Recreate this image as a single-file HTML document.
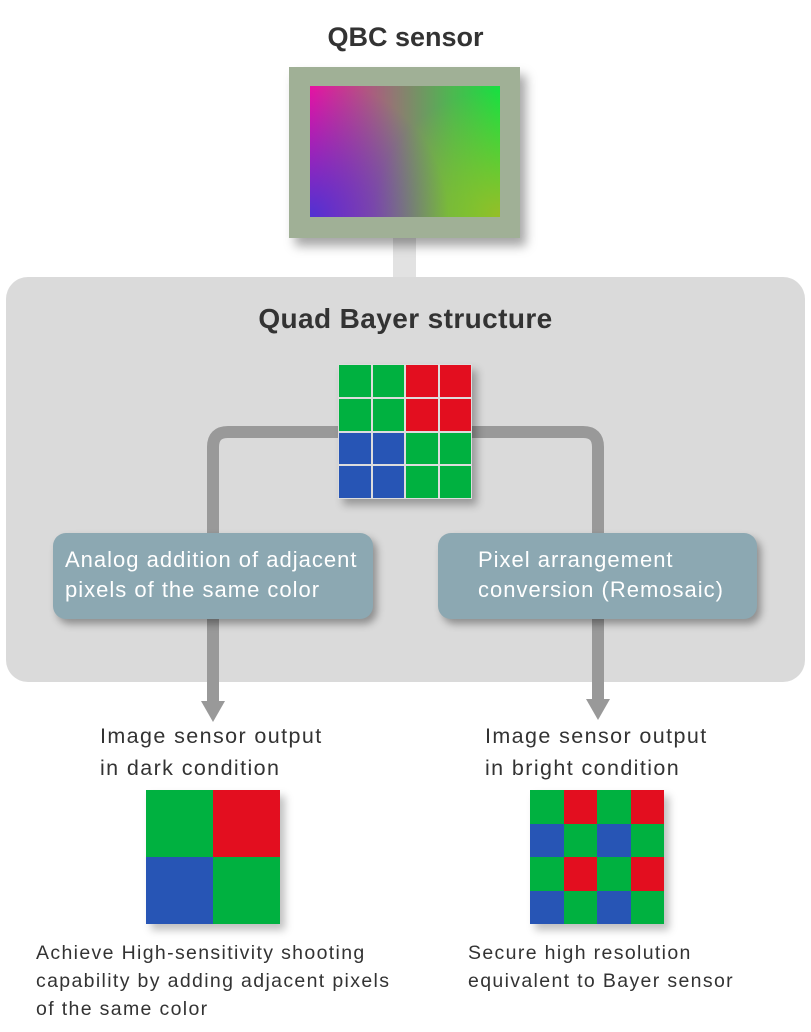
<!DOCTYPE html>
<html><head><style>
body{margin:0;width:811px;height:1032px;background:#fff;position:relative;overflow:hidden;font-family:"Liberation Sans","DejaVu Sans",sans-serif;}
.a{position:absolute}
.t{font-weight:bold;color:#333;text-align:center;width:811px;left:0}
.box{position:absolute;background:#8ca8b2;border-radius:13px;color:#fff;font-size:22px;letter-spacing:1px;line-height:30px;box-shadow:4px 5px 8px rgba(0,0,0,.35);padding:12px 0 0 12px;box-sizing:border-box;white-space:nowrap}
.lbl{position:absolute;font-size:21.5px;letter-spacing:1.4px;line-height:32px;color:#333;white-space:nowrap}
.cap{position:absolute;font-size:19.5px;letter-spacing:1.35px;line-height:28px;color:#333;white-space:nowrap}
.g{position:absolute;display:grid}
.g div{box-sizing:border-box}
.G{background:#00b140}.R{background:#e30e1f}.B{background:#2755b5}
</style></head><body>
<div class="a t" style="top:22px;font-size:27px">QBC sensor</div>
<div class="a" style="left:393px;top:236px;width:23px;height:60px;background:#e2e2e2"></div>
<div class="a" style="left:289px;top:67px;width:231px;height:171px;background:#a0b096;box-shadow:6px 8px 10px rgba(0,0,0,.35)"></div>
<div class="a" style="left:310px;top:86px;width:190px;height:131px;background:linear-gradient(to right,#f010a0 0%,#8f7a72 45%,#4cb850 75%,#18e040 100%)"></div>
<div class="a" style="left:310px;top:86px;width:190px;height:131px;background:radial-gradient(circle at 0% 100%,rgba(80,50,210,1) 0%,rgba(110,90,150,0) 60%),radial-gradient(circle at 100% 100%,rgba(150,190,40,1) 0%,rgba(120,160,60,0) 55%)"></div>
<div class="a" style="left:6px;top:277px;width:799px;height:405px;background:#dadada;border-radius:22px"></div>
<div class="a t" style="top:303px;font-size:28px;letter-spacing:0.4px">Quad Bayer structure</div>
<svg class="a" style="left:0;top:0" width="811" height="1032">
<g fill="none" stroke="#999" stroke-width="12">
<path d="M340 432 H228 Q213 432 213 447 V702"/>
<path d="M470 432 H583 Q598 432 598 447 V700"/>
</g>
<polygon points="201,701 225,701 213,722" fill="#999"/>
<polygon points="586,699 610,699 598,720" fill="#999"/>
</svg>
<div class="g" style="left:338px;top:364px;width:134px;height:135px;grid-template-columns:repeat(4,1fr);grid-template-rows:repeat(4,1fr);box-shadow:5px 6px 8px rgba(0,0,0,.3)">
<div class="G" style="border:1px solid #ddd"></div><div class="G" style="border:1px solid #ddd"></div><div class="R" style="border:1px solid #ddd"></div><div class="R" style="border:1px solid #ddd"></div>
<div class="G" style="border:1px solid #ddd"></div><div class="G" style="border:1px solid #ddd"></div><div class="R" style="border:1px solid #ddd"></div><div class="R" style="border:1px solid #ddd"></div>
<div class="B" style="border:1px solid #ddd"></div><div class="B" style="border:1px solid #ddd"></div><div class="G" style="border:1px solid #ddd"></div><div class="G" style="border:1px solid #ddd"></div>
<div class="B" style="border:1px solid #ddd"></div><div class="B" style="border:1px solid #ddd"></div><div class="G" style="border:1px solid #ddd"></div><div class="G" style="border:1px solid #ddd"></div>
</div>
<div class="box" style="left:53px;top:533px;width:320px;height:86px">Analog addition of adjacent<br>pixels of the same color</div>
<div class="box" style="left:438px;top:533px;width:319px;height:86px;padding-left:40px">Pixel arrangement<br>conversion (Remosaic)</div>
<div class="lbl" style="left:100px;top:720px">Image sensor output<br>in dark condition</div>
<div class="lbl" style="left:485px;top:720px">Image sensor output<br>in bright condition</div>
<div class="g" style="left:146px;top:790px;width:134px;height:134px;grid-template-columns:1fr 1fr;grid-template-rows:1fr 1fr;box-shadow:5px 6px 8px rgba(0,0,0,.25)">
<div class="G"></div><div class="R"></div><div class="B"></div><div class="G"></div></div>
<div class="g" style="left:530px;top:790px;width:134px;height:134px;grid-template-columns:repeat(4,1fr);grid-template-rows:repeat(4,1fr);box-shadow:5px 6px 8px rgba(0,0,0,.25)">
<div class="G"></div><div class="R"></div><div class="G"></div><div class="R"></div>
<div class="B"></div><div class="G"></div><div class="B"></div><div class="G"></div>
<div class="G"></div><div class="R"></div><div class="G"></div><div class="R"></div>
<div class="B"></div><div class="G"></div><div class="B"></div><div class="G"></div></div>
<div class="cap" style="left:36px;top:939px">Achieve High-sensitivity shooting<br>capability by adding adjacent pixels<br>of the same color</div>
<div class="cap" style="left:468px;top:939px">Secure high resolution<br>equivalent to Bayer sensor</div>
</body></html>
